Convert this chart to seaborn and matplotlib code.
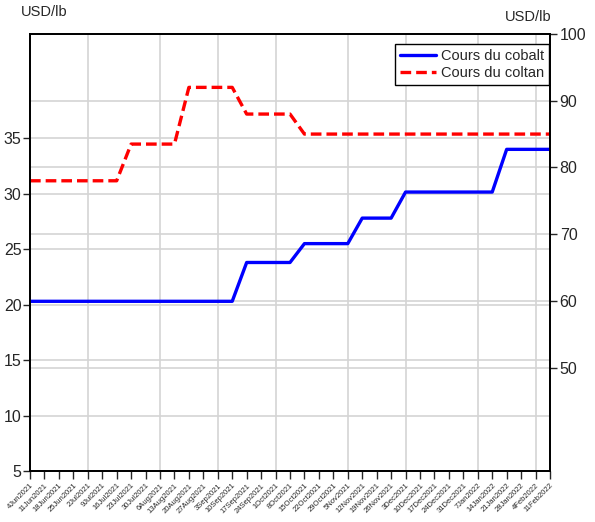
import numpy as np
import pandas as pd
import matplotlib
matplotlib.use("Agg")
import matplotlib.pyplot as plt
import matplotlib.transforms as mtransforms
import seaborn as sns

dates = ["4Jun2021", "11Jun2021", "18Jun2021", "25Jun2021", "2Jul2021", "9Jul2021",
         "16Jul2021", "23Jul2021", "30Jul2021", "6Aug2021", "13Aug2021", "20Aug2021",
         "27Aug2021", "3Sep2021", "10Sep2021", "17Sep2021", "24Sep2021", "1Oct2021",
         "8Oct2021", "15Oct2021", "22Oct2021", "29Oct2021", "5Nov2021", "12Nov2021",
         "19Nov2021", "26Nov2021", "3Dec2021", "10Dec2021", "17Dec2021", "24Dec2021",
         "31Dec2021", "7Jan2022", "14Jan2022", "21Jan2022", "28Jan2022", "4Feb2022",
         "11Feb2022"]

cobalt = [20.3] * 15 + [23.8] * 4 + [25.5] * 4 + [27.8] * 3 + [30.15] * 7 + [34.0] * 4
coltan = [78.0] * 7 + [83.5] * 4 + [92.0] * 4 + [88.0] * 4 + [85.0] * 18

month_starts = [4, 9, 13, 17, 22, 26, 31, 35]
left_grid = [10, 15, 20, 25, 30, 35]
right_grid = [50, 60, 70, 80, 90]

df = pd.DataFrame({"x": np.arange(len(dates)), "cobalt": cobalt, "coltan": coltan})

sns.set_style("white")
plt.rcParams["font.family"] = ["Liberation Sans Narrow", "Liberation Sans", "DejaVu Sans"]

fig = plt.figure(figsize=(5.95, 5.22), dpi=100)
ax = fig.add_axes([30 / 595, 1 - 471 / 522, 520 / 595, 437 / 522])
ax2 = ax.twinx()
# right axis sits underneath so the grid stays behind both lines
ax2.set_zorder(0)
ax.set_zorder(1)
ax.patch.set_visible(False)

ax.set_xlim(0, len(dates) - 1)
ax.set_ylim(5, 44.4)
ax2.set_ylim(34.5, 100)

grid_kw = dict(color="#d4d4d4", linewidth=1.2, zorder=0)
for m in month_starts:
    ax2.axvline(m, **grid_kw)
left_tr = mtransforms.blended_transform_factory(ax2.transAxes, ax.transData)
for v in left_grid:
    ax2.plot([0, 1], [v, v], transform=left_tr, **grid_kw)
for v in right_grid:
    ax2.axhline(v, **grid_kw)

sns.lineplot(data=df, x="x", y="coltan", ax=ax2, color="#ff0000", linewidth=2.4,
             linestyle=(0, (3.2, 1.5)), label="Cours du coltan", legend=False)
sns.lineplot(data=df, x="x", y="cobalt", ax=ax, color="#0000ff", linewidth=2.4,
             label="Cours du cobalt", legend=False)

ax.set_xlim(0, len(dates) - 1)
ax.set_ylim(5, 44.4)
ax2.set_ylim(34.5, 100)
ax.set_yticks([5, 10, 15, 20, 25, 30, 35])
ax2.set_yticks([50, 60, 70, 80, 90, 100])
ax.set_xticks(df["x"])
ax.set_xticklabels(dates, rotation=45, ha="right", rotation_mode="anchor", fontsize=5.5)
ax.set_xlabel("")
ax.set_ylabel("")
ax2.set_ylabel("")

ax.tick_params(axis="y", labelsize=11.5, length=5, width=1, direction="out", left=True, pad=1)
ax2.tick_params(axis="y", labelsize=11.5, length=5, width=1, direction="out", right=True, pad=2)
ax.tick_params(axis="x", length=6, width=1, direction="out", bottom=True, pad=2)

for a in (ax, ax2):
    for s in a.spines.values():
        s.set_color("black")
        s.set_linewidth(1.3)

fig.text(21 / 595, 1 - 12 / 522, "USD/lb", fontsize=10.5, ha="left", va="center")
fig.text(552 / 595, 1 - 17 / 522, "USD/lb", fontsize=10.5, ha="right", va="center")

h1, l1 = ax.get_legend_handles_labels()
h2, l2 = ax2.get_legend_handles_labels()
leg = ax.legend(h1 + h2, l1 + l2, loc="upper right", fontsize=10.5, frameon=True,
                fancybox=False, edgecolor="black", borderpad=0.35, labelspacing=0.2,
                handlelength=2.5, handletextpad=0.3, borderaxespad=0,
                bbox_to_anchor=(549 / 595, 1 - 44 / 522), bbox_transform=fig.transFigure)
leg.get_frame().set_linewidth(1.0)
leg.get_frame().set_alpha(1)

fig.savefig("out.png", dpi=100)
